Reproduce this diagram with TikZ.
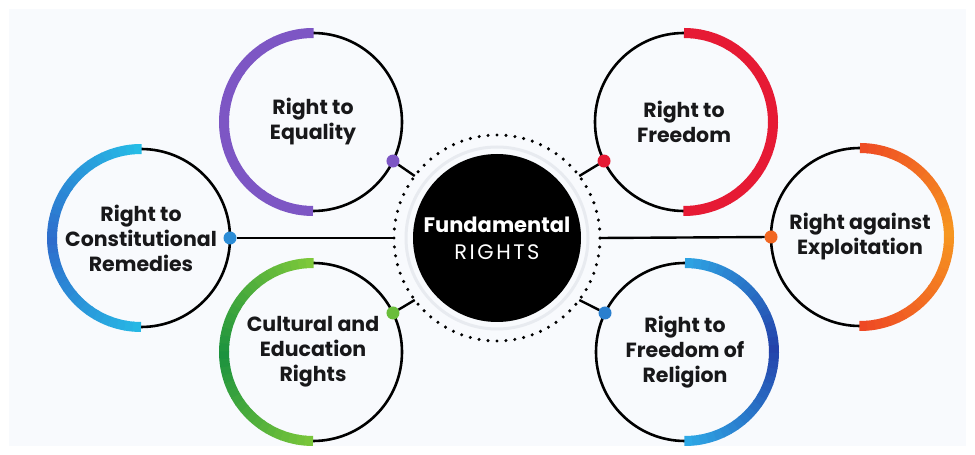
\documentclass[tikz,border=0pt]{standalone}
\usepackage{fontspec}
\setmainfont{Poppins}
\newfontfamily\spacedfont[LetterSpace=12]{Poppins}
\usetikzlibrary{calc}

\definecolor{panel}{RGB}{248,250,253}
\definecolor{ink}{RGB}{24,24,26}
\definecolor{halo}{RGB}{232,235,240}
\definecolor{purpleA}{RGB}{125,86,196}
\definecolor{cyanA}{RGB}{38,188,230}
\definecolor{blueA}{RGB}{46,108,204}
\definecolor{greenA}{RGB}{126,200,58}
\definecolor{greenB}{RGB}{28,146,62}
\definecolor{redA}{RGB}{230,26,52}
\definecolor{orangeA}{RGB}{238,72,36}
\definecolor{orangeB}{RGB}{246,150,32}
\definecolor{skyA}{RGB}{46,168,230}
\definecolor{navyA}{RGB}{36,66,170}

\tikzset{
  topic/.style={circle,draw=black,line width=2.6pt,minimum size=178pt,inner sep=0pt,outer sep=0pt,
    align=center,text=ink,font=\fontsize{20.5}{25}\selectfont\bfseries},
  joint/.style={circle,inner sep=0pt,outer sep=0pt,minimum size=13pt},
  link/.style={line width=2.4pt,draw=black}
}

%thick coloured half of a circle: node, start angle, end colour, middle colour
\newcommand\bandarc[4]{%
  \foreach \i in {0,...,35}
    {
      \pgfmathsetmacro\a{#2+5*\i}
      \pgfmathtruncatemacro\p{abs(\a-#2-90)/90*100}
      \draw[line width=10pt,color=#3!\p!#4] (#1.center) ++(\a-0.4:89) arc[start angle=\a-0.4,end angle=\a+5,radius=89];
    }
}

\begin{document}
\begin{tikzpicture}[x=1pt,y=1pt]
  %Background
  \fill[white] (0,0) rectangle (975,455);
  \fill[panel] (9,9) rectangle (966,446);
  \useasboundingbox (0,0) rectangle (975,455);
  %Centre
  \node[circle,fill=black,minimum size=168pt,inner sep=0pt,outer sep=0pt,align=center,text=white,
    font=\fontsize{21}{27}\selectfont] (hub) at (497,217)
    {{\bfseries Fundamental}\\{\spacedfont RIGHTS}};
  \draw[halo,line width=3pt] (hub.center) circle (91);
  \node[circle,minimum size=206pt,inner sep=0pt,outer sep=0pt,draw=black,line width=3.4pt,line cap=round,
    dash pattern=on 0pt off 8.988pt] (ring) at (hub.center) {};
  %Left side
  \node[topic] (equality) at (313,333) {Right to\\Equality};
  \node[topic] (remedies) at (141,217) {Right to\\Constitutional\\Remedies};
  \node[topic] (culture) at (313,103) {Cultural and\\Education\\Rights};
  \bandarc{equality}{90}{purpleA}{purpleA}
  \bandarc{remedies}{90}{cyanA}{blueA}
  \bandarc{culture}{90}{greenA}{greenB}
  %Right side
  \node[topic] (freedom) at (684,333) {Right to\\Freedom};
  \node[topic] (exploit) at (860,218) {Right against\\Exploitation};
  \node[topic] (religion) at (685,103) {Right to\\Freedom of\\Religion};
  \bandarc{freedom}{-90}{redA}{redA}
  \bandarc{exploit}{-90}{orangeA}{orangeB}
  \bandarc{religion}{-90}{skyA}{navyA}
  %Joints
  \node[joint,fill=purpleA] (equalityjoint) at (equality.-26) {};
  \node[joint,fill=blueA!60!cyanA] (remediesjoint) at (remedies.0) {};
  \node[joint,fill=greenA!80!greenB] (culturejoint) at (culture.26) {};
  \node[joint,fill=redA] (freedomjoint) at (freedom.206) {};
  \node[joint,fill=orangeA!60!orangeB] (exploitjoint) at (exploit.180) {};
  \node[joint,fill=skyA!60!navyA] (religionjoint) at (religion.154) {};
  %Links
  \draw[link] (equalityjoint) -- (ring.143);
  \draw[link] (remediesjoint) -- (ring.180);
  \draw[link] (culturejoint) -- (ring.217);
  \draw[link] (freedomjoint) -- (ring.37);
  \draw[link] (exploitjoint) -- (ring.0);
  \draw[link] (religionjoint) -- (ring.323);
\end{tikzpicture}
\end{document}
